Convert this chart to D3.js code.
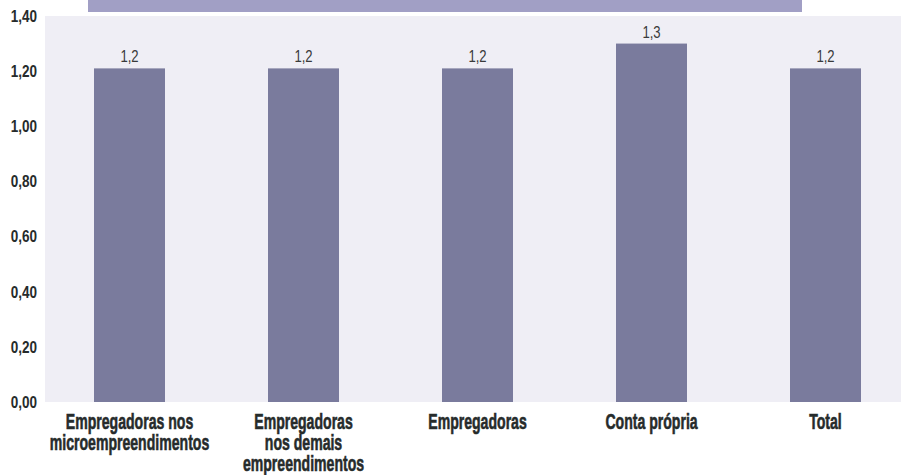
<!DOCTYPE html>
<meta charset="utf-8">
<style>
	body { margin: 0; background: #fff; }
</style>
<body>
	<div id="chart"></div>
</body>
<script src="https://cdn.jsdelivr.net/npm/d3@7"></script>
<script>
	const categories = ["Empregadoras nos\nmicroempreendimentos", "Empregadoras\nnos demais\nempreendimentos", "Empregadoras", "Conta própria", "Total"];
	const values = [1.21, 1.21, 1.21, 1.30, 1.21];
	const yTicks = [0, 0.2, 0.4, 0.6, 0.8, 1.0, 1.2, 1.4];

	const width = 901,
	    height = 475,
	    plotLeft = 45,
	    plotRight = 901,
	    plotTop = 16,
	    plotBottom = 402,
	    font = "'Liberation Sans', Arial, sans-serif";

	const br = d3.formatLocale({decimal: ",", thousands: ".", grouping: [3], currency: ["R$", ""]});
	const fmtTick = br.format(".2f"),
	    fmtLabel = br.format(".1f");

	const svg = d3.select("#chart").append("svg")
	    .attr("width", width)
	    .attr("height", height);

	// title band, cut at the top of the picture
	svg.append("rect")
	    .attr("x", 88)
	    .attr("y", 0)
	    .attr("width", 714)
	    .attr("height", 12)
	    .style("fill", "#a19fc5");

	// plot background
	svg.append("rect")
	    .attr("x", plotLeft)
	    .attr("y", plotTop)
	    .attr("width", plotRight - plotLeft)
	    .attr("height", plotBottom - plotTop)
	    .style("fill", "#efeef5");

	const x = d3.scaleBand()
	    .domain(categories)
	    .range([42.5, 912.5])
	    .paddingInner(0.592)
	    .paddingOuter(0.296);

	const y = d3.scaleLinear()
	    .domain([0, 1.4])
	    .range([plotBottom, plotTop]);

	svg.append("g")
	    .selectAll("rect")
	    .data(values)
	    .enter().append("rect")
	        .attr("x", (d, i) => x(categories[i]))
	        .attr("y", d => y(d))
	        .attr("width", x.bandwidth())
	        .attr("height", d => plotBottom - y(d))
	        .style("fill", "#7a7b9d");

	// value labels (condensed by a horizontal squeeze)
	svg.append("g")
	    .selectAll("text")
	    .data(values)
	    .enter().append("text")
	        .attr("transform", (d, i) => "translate(" + (x(categories[i]) + x.bandwidth() / 2) + "," + (y(d) - 6) + ") scale(0.82,1)")
	        .attr("text-anchor", "middle")
	        .style("font-family", font)
	        .style("font-size", "16px")
	        .style("fill", "#3a3a3a")
	        .text(d => fmtLabel(d));

	// y axis, labels only
	const yAxis = svg.append("g")
	    .attr("transform", "translate(" + (plotLeft - 8) + ",0)")
	    .call(d3.axisLeft(y).tickValues(yTicks).tickFormat(fmtTick).tickSize(0).tickPadding(0));
	yAxis.select(".domain").remove();
	yAxis.selectAll("text")
	    .attr("transform", "scale(0.82,1)")
	    .style("font-family", font)
	    .style("font-weight", "bold")
	    .style("font-size", "16.5px")
	    .style("fill", "#262b2b");

	// x axis, multi-line labels (heavy condensed look: squeeze + thin stroke)
	const xAxis = svg.append("g")
	    .attr("transform", "translate(0," + plotBottom + ")")
	    .call(d3.axisBottom(x).tickSize(0).tickFormat(""));
	xAxis.select(".domain").remove();
	xAxis.selectAll(".tick text").each(function(d) {
	    const t = d3.select(this)
	        .attr("y", null)
	        .attr("dy", null)
	        .attr("transform", "scale(0.64,1)")
	        .style("font-family", font)
	        .style("font-weight", "bold")
	        .style("font-size", "22px")
	        .style("fill", "#262b2b")
	        .style("stroke", "#262b2b")
	        .style("stroke-width", "0.6px");
	    d.split("\n").forEach((line, i) => {
	        t.append("tspan")
	            .attr("x", 0)
	            .attr("y", 27 + i * 21)
	            .text(line);
	    });
	});
</script>
